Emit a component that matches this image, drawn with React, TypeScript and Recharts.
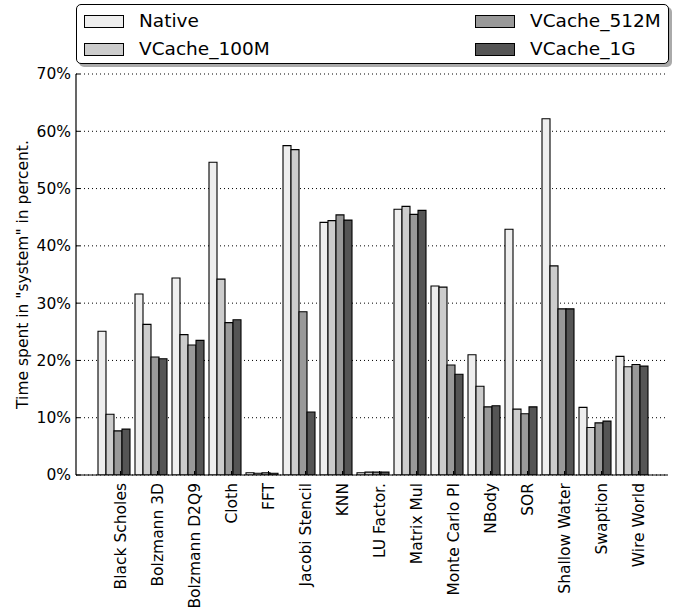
import { BarChart, Bar, XAxis, YAxis, CartesianGrid, Legend } from 'recharts';

const categories = [
  'Black Scholes', 'Bolzmann 3D', 'Bolzmann D2Q9', 'Cloth', 'FFT', 'Jacobi Stencil', 'KNN',
  'LU Factor.', 'Matrix Mul', 'Monte Carlo PI', 'NBody', 'SOR', 'Shallow Water', 'Swaption', 'Wire World',
];
const native = [25.1, 31.6, 34.4, 54.6, 0.4, 57.5, 44.1, 0.4, 46.4, 33.0, 21.0, 42.9, 62.2, 11.8, 20.7];
const vcache100M = [10.6, 26.3, 24.5, 34.2, 0.3, 56.8, 44.4, 0.5, 46.9, 32.8, 15.5, 11.5, 36.5, 8.3, 18.9];
const vcache512M = [7.7, 20.6, 22.7, 26.6, 0.4, 28.5, 45.4, 0.5, 45.5, 19.2, 11.9, 10.7, 29.0, 9.1, 19.3];
const vcache1G = [8.0, 20.3, 23.5, 27.1, 0.3, 11.0, 44.5, 0.5, 46.2, 17.6, 12.1, 11.9, 29.0, 9.4, 19.0];
const yTicks = [0, 10, 20, 30, 40, 50, 60, 70];

const series = [
  { key: 'native', name: 'Native', color: '#eeeeee' },
  { key: 'v100', name: 'VCache_100M', color: '#cccccc' },
  { key: 'v512', name: 'VCache_512M', color: '#999999' },
  { key: 'v1g', name: 'VCache_1G', color: '#555555' },
];

const data = categories.map((name, i) => ({
  name,
  native: native[i],
  v100: vcache100M[i],
  v512: vcache512M[i],
  v1g: vcache1G[i],
}));

const FONT = '"DejaVu Sans", sans-serif';

// matplotlib puts the tick one bar width right of the group centre
const BottomTick = (props: any) => {
  const { x, y, payload } = props;
  return (
    <g>
      <line x1={x + 7.5} x2={x + 7.5} y1={y} y2={y - 4} stroke="#000" />
      <text x={x + 7.5} y={y + 8} dy="0.35em" textAnchor="end" transform={`rotate(-90 ${x + 7.5} ${y + 8})`}
        fontSize={15.5} fontFamily={FONT} fill="#000">
        {payload.value}
      </text>
    </g>
  );
};

const TopTick = (props: any) => {
  const { x, y } = props;
  return <line x1={x + 7.5} x2={x + 7.5} y1={y} y2={y + 4} stroke="#000" />;
};

const LeftTick = (props: any) => {
  const { x, y, payload } = props;
  return (
    <g>
      <line x1={x} x2={x + 4} y1={y} y2={y} stroke="#000" />
      <text x={x - 5} y={y} dy="0.35em" textAnchor="end" fontSize={15.5} fontFamily={FONT} fill="#000">
        {payload.value}%
      </text>
    </g>
  );
};

const RightTick = (props: any) => {
  const { x, y } = props;
  return <line x1={x} x2={x - 4} y1={y} y2={y} stroke="#000" />;
};

const LegendBox = () => {
  const cols = [[series[0], series[1]], [series[2], series[3]]];
  return (
    <div style={{
      position: 'relative', width: 593, height: 60, boxSizing: 'border-box', border: '1.3px solid #000',
      borderRadius: 5, background: '#fff', boxShadow: '3px 3px 0 #aaa', fontFamily: FONT, fontSize: 18.5,
    }}>
      {cols.map((col, c) =>
        col.map((s, r) => (
          <div key={s.key} style={{ position: 'absolute', left: c === 0 ? 7 : 398, top: r === 0 ? 4 : 32, display: 'flex', alignItems: 'center', height: 24 }}>
            <span style={{ display: 'inline-block', width: 38, height: 11, background: s.color, border: '1px solid #000' }} />
            <span style={{ marginLeft: 15, lineHeight: '24px' }}>{s.name}</span>
          </div>
        ))
      )}
    </div>
  );
};

export default function App() {
  return (
    <div style={{ position: 'absolute', left: 0, top: 0, width: 678, height: 609, background: '#fff' }}>
      <BarChart width={678} height={609} data={data} margin={{ top: 74, right: 10, bottom: 0, left: 0 }}
        barCategoryGap={3.5} barGap={0}>
        <CartesianGrid vertical={false} stroke="#000" strokeDasharray="1 3" />
        <XAxis dataKey="name" xAxisId={0} height={134} interval={0} padding={{ left: 18.5, right: 18.5 }}
          tickSize={0} tickMargin={0} tickLine={false} axisLine={{ stroke: '#000', strokeWidth: 1.2 }} tick={<BottomTick />} />
        <XAxis dataKey="name" xAxisId="top" orientation="top" height={0} interval={0} padding={{ left: 18.5, right: 18.5 }}
          tickSize={0} tickMargin={0} tickLine={false} axisLine={{ stroke: '#000', strokeWidth: 1.2 }} tick={<TopTick />} />
        <YAxis yAxisId={0} width={76} domain={[0, 70]} ticks={yTicks} type="number" allowDataOverflow
          tickSize={0} tickMargin={0} tickLine={false} axisLine={{ stroke: '#000', strokeWidth: 1.2 }} tick={<LeftTick />}
          label={{ value: 'Time spent in "system" in percent.', angle: -90, position: 'insideLeft', dx: 17, fill: '#000',
            fontSize: 15.5, fontFamily: FONT, style: { textAnchor: 'middle', fill: '#000' } }} />
        <YAxis yAxisId="r" orientation="right" width={0} domain={[0, 70]} ticks={yTicks} type="number" allowDataOverflow
          tickSize={0} tickMargin={0} tickLine={false} axisLine={{ stroke: '#000', strokeWidth: 1.2 }} tick={<RightTick />} />
        <Legend layout="horizontal" verticalAlign="middle" align="center" content={<LegendBox />}
          wrapperStyle={{ left: 76, top: 4, width: 593, height: 60 }} />
        {series.map((s) => (
          <Bar key={s.key} dataKey={s.key} name={s.name} fill={s.color} stroke="#000" strokeWidth={1.1}
            isAnimationActive={false} />
        ))}
      </BarChart>
    </div>
  );
}
